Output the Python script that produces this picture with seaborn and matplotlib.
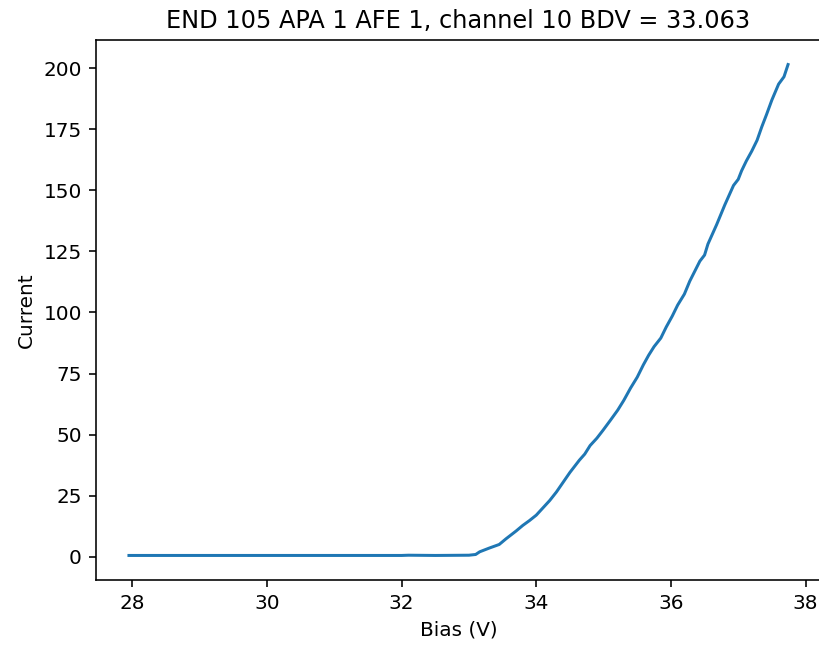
import numpy as np
import pandas as pd
import matplotlib
matplotlib.use("Agg")
import matplotlib.pyplot as plt
import seaborn as sns

# IV scan
bias = [27.95, 28.5, 29.0, 29.5, 30.0, 30.5, 31.0, 31.5, 32.0, 32.1, 32.5, 33.0,
        33.1, 33.16, 33.3, 33.45, 33.55, 33.7, 33.8, 33.9, 34.0, 34.1, 34.2, 34.3,
        34.4, 34.5, 34.64, 34.72, 34.8, 34.9, 34.99, 35.1, 35.21, 35.3, 35.4, 35.5,
        35.59, 35.67, 35.75, 35.85, 35.93, 36.02, 36.1, 36.2, 36.28, 36.43, 36.5, 36.55,
        36.68, 36.8, 36.93, 37.0, 37.05, 37.12, 37.2, 37.28, 37.35, 37.42, 37.5, 37.6, 37.68, 37.74]
current = [0.5, 0.5, 0.5, 0.5, 0.5, 0.5, 0.5, 0.5, 0.5, 0.6, 0.5, 0.6,
           0.9, 2.0, 3.5, 5.0, 7.3, 10.5, 12.8, 14.8, 17.0, 20.0, 23.0, 26.5,
           30.5, 34.5, 39.5, 42.0, 45.5, 48.5, 51.7, 55.8, 60.0, 64.0, 69.0, 73.5,
           78.5, 82.5, 86.0, 89.5, 94.0, 98.5, 103.0, 107.5, 112.8, 121.0, 123.5, 128.0,
           136.0, 144.0, 152.0, 154.5, 158.0, 162.0, 166.0, 170.5, 176.0, 181.0, 187.0, 193.5, 196.5, 201.5]

title = "END 105 APA 1 AFE 1, channel 10 BDV = 33.063"

df = pd.DataFrame({"Bias (V)": bias, "Current": current})

s = 1.44  # scale of the reference render
fig = plt.figure(figsize=(8.19, 6.46), dpi=100)
ax = fig.add_axes([96 / 819, 66 / 646, (821 - 96) / 819, (580 - 40) / 646])
sns.lineplot(x="Bias (V)", y="Current", data=df, ax=ax, color="#1f77b4", linewidth=1.5 * s)

ax.set_title(title, fontsize=12 * s, pad=6 * s)
ax.set_xlabel("Bias (V)", fontsize=10 * s, labelpad=4 * s)
ax.set_ylabel("Current", fontsize=10 * s, labelpad=4 * s)
ax.set_xticks([28, 30, 32, 34, 36, 38])
ax.set_yticks([0, 25, 50, 75, 100, 125, 150, 175, 200])
ax.tick_params(labelsize=10 * s, length=3.5 * s, width=0.8 * s, pad=3.5 * s)
for sp in ax.spines.values():
    sp.set_linewidth(0.8 * s)
# the reference is cropped just before the right frame line
ax.spines["right"].set_visible(False)

fig.savefig("out.png", dpi=100)
